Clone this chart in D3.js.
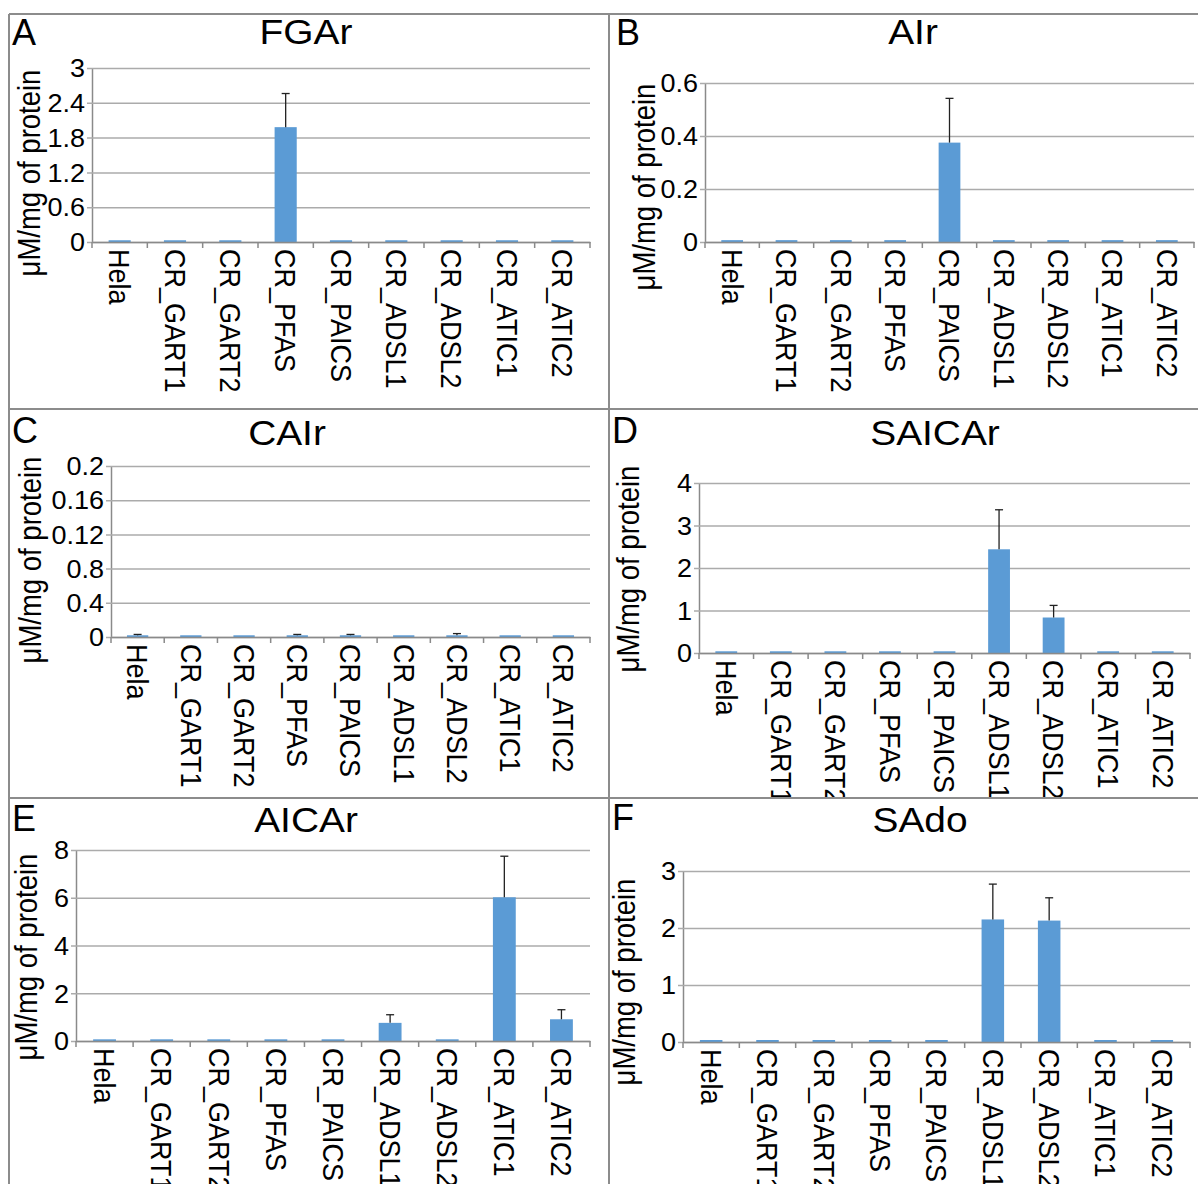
<!DOCTYPE html>
<html lang="en">
<head>
<meta charset="utf-8">
<title>Purine intermediates</title>
<script src="https://cdn.jsdelivr.net/npm/d3@7/dist/d3.min.js"></script>
<style>
  body { margin: 0; background: #fff; }
  svg text { font-family: "Liberation Sans", Arial, sans-serif; fill: #000; }
  .grid line { stroke: #ababab; stroke-width: 1.5px; }
  .axis path, .axis line { stroke: #8a8a8a; stroke-width: 1.5px; }
  .border { stroke: #8c8c8c; stroke-width: 2px; }
</style>
</head>
<body>
<script>
var categories = ["Hela", "CR_GART1", "CR_GART2", "CR_PFAS", "CR_PAICS",
                  "CR_ADSL1", "CR_ADSL2", "CR_ATIC1", "CR_ATIC2"];

// values (near-zero bars kept as thin slivers)
var fgar      = [0.03, 0.03, 0.03, 1.98, 0.03, 0.03, 0.03, 0.03, 0.03];
var fgarErr   = [0, 0, 0, 0.58, 0, 0, 0, 0, 0];
var air       = [0.007, 0.007, 0.007, 0.007, 0.375, 0.007, 0.007, 0.007, 0.007];
var airErr    = [0, 0, 0, 0, 0.167, 0, 0, 0, 0];
var cair      = [0.002, 0.002, 0.002, 0.002, 0.002, 0.002, 0.002, 0.002, 0.002];
var cairErr   = [0.001, 0, 0, 0.001, 0.001, 0, 0.002, 0, 0];
var saicar    = [0.04, 0.04, 0.04, 0.04, 0.04, 2.44, 0.835, 0.04, 0.04];
var saicarErr = [0, 0, 0, 0, 0, 0.93, 0.285, 0, 0];
var aicar     = [0.07, 0.07, 0.07, 0.07, 0.07, 0.76, 0.07, 6.02, 0.91];
var aicarErr  = [0, 0, 0, 0, 0, 0.34, 0, 1.72, 0.4];
var sado      = [0.035, 0.035, 0.035, 0.035, 0.035, 2.15, 2.13, 0.035, 0.035];
var sadoErr   = [0, 0, 0, 0, 0, 0.62, 0.40, 0, 0];

var fgarTicks = [0, 0.6, 1.2, 1.8, 2.4, 3];
var fgarTickLabels = ["0", "0.6", "1.2", "1.8", "2.4", "3"];
var airTicks = [0, 0.2, 0.4, 0.6];
var airTickLabels = ["0", "0.2", "0.4", "0.6"];
var cairTicks = [0, 0.04, 0.08, 0.12, 0.16, 0.2];
var cairTickLabels = ["0", "0.4", "0.8", "0.12", "0.16", "0.2"];
var saicarTicks = [0, 1, 2, 3, 4];
var saicarTickLabels = ["0", "1", "2", "3", "4"];
var aicarTicks = [0, 2, 4, 6, 8];
var aicarTickLabels = ["0", "2", "4", "6", "8"];
var sadoTicks = [0, 1, 2, 3];
var sadoTickLabels = ["0", "1", "2", "3"];

var yLabel = "\u03bcM/mg of protein";

var panels = [
  {letter: "A", title: "FGAr",   values: fgar,   errors: fgarErr,   max: 3,   ticks: fgarTicks,   tickLabels: fgarTickLabels},
  {letter: "B", title: "AIr",    values: air,    errors: airErr,    max: 0.6, ticks: airTicks,    tickLabels: airTickLabels},
  {letter: "C", title: "CAIr",   values: cair,   errors: cairErr,   max: 0.2, ticks: cairTicks,   tickLabels: cairTickLabels},
  {letter: "D", title: "SAICAr", values: saicar, errors: saicarErr, max: 4,   ticks: saicarTicks, tickLabels: saicarTickLabels},
  {letter: "E", title: "AICAr",  values: aicar,  errors: aicarErr,  max: 8,   ticks: aicarTicks,  tickLabels: aicarTickLabels},
  {letter: "F", title: "SAdo",   values: sado,   errors: sadoErr,   max: 3,   ticks: sadoTicks,   tickLabels: sadoTickLabels}
];

// box: clip region, plot: [x0, x1, yZero, yTop]
var layout = [
  {box: [9, 14, 600, 395],   letter: [12, 45],   title: [306, 44],  plot: [92, 590, 242, 68],    ylab: [31, 173]},
  {box: [609, 14, 589, 395], letter: [616, 45],  title: [913, 44],  plot: [705, 1194, 242, 83],  ylab: [646, 187]},
  {box: [9, 409, 600, 389],  letter: [12, 443],  title: [287, 445], plot: [111, 590, 637, 466],  ylab: [32, 560]},
  {box: [609, 409, 589, 389],letter: [612, 443], title: [935, 445], plot: [699, 1190, 653, 483], ylab: [630, 569]},
  {box: [9, 798, 600, 386],  letter: [12, 831],  title: [306, 832], plot: [76, 590, 1041, 850],  ylab: [28, 957]},
  {box: [609, 798, 589, 386],letter: [612, 830], title: [920, 832], plot: [683, 1190, 1042, 871],ylab: [626, 982]}
];

// the source figure is slightly stretched sideways
var sx = 1.08;

var svg = d3.select("body").append("svg")
    .attr("width", 1198)
    .attr("height", 1184);

svg.append("rect").attr("width", 1198).attr("height", 1184).attr("fill", "#fff");

panels.forEach(function(p, i) {
  var L = layout[i];
  var x0 = L.plot[0], x1 = L.plot[1], yZero = L.plot[2], yTop = L.plot[3];

  svg.append("clipPath").attr("id", "clip" + i)
    .append("rect")
    .attr("x", L.box[0]).attr("y", L.box[1])
    .attr("width", L.box[2]).attr("height", L.box[3]);

  var g = svg.append("g").attr("clip-path", "url(#clip" + i + ")");

  var x = d3.scaleBand().domain(categories).range([x0, x1]);
  var y = d3.scaleLinear().domain([0, p.max]).range([yZero, yTop]);

  // y axis + gridlines
  var gy = g.append("g")
    .attr("class", "axis grid")
    .attr("transform", "translate(" + x0 + ",0)")
    .call(d3.axisLeft(y)
      .tickValues(p.ticks)
      .tickFormat(function(d, j) { return p.tickLabels[j]; })
      .tickSizeInner(-(x1 - x0))
      .tickSizeOuter(0)
      .tickPadding(0));
  gy.selectAll(".tick line").attr("x1", -5).style("stroke", "#ababab");
  gy.selectAll(".tick text")
    .attr("x", null)
    .attr("transform", "translate(-7,0) scale(" + sx + ",1)")
    .attr("dy", "0.35em")
    .style("font-size", "25px");

  // bars
  g.append("g").selectAll("rect")
    .data(p.values)
    .enter().append("rect")
    .attr("x", function(d, j) { return x(categories[j]) + x.bandwidth() * 0.3; })
    .attr("width", x.bandwidth() * 0.4)
    .attr("y", function(d) { return y(d); })
    .attr("height", function(d) { return yZero - y(d); })
    .attr("fill", "#5b9bd5");

  // error bars
  var eb = g.append("g").selectAll("g")
    .data(p.values.map(function(d, j) { return {v: d, e: p.errors[j], c: categories[j]}; })
      .filter(function(d) { return d.e > 0; }))
    .enter().append("g");
  eb.append("line")
    .attr("x1", function(d) { return x(d.c) + x.bandwidth() / 2; })
    .attr("x2", function(d) { return x(d.c) + x.bandwidth() / 2; })
    .attr("y1", function(d) { return y(d.v); })
    .attr("y2", function(d) { return y(d.v + d.e); })
    .attr("stroke", "#222").attr("stroke-width", 1.3);
  eb.append("line")
    .attr("x1", function(d) { return x(d.c) + x.bandwidth() / 2 - 4; })
    .attr("x2", function(d) { return x(d.c) + x.bandwidth() / 2 + 4; })
    .attr("y1", function(d) { return y(d.v + d.e); })
    .attr("y2", function(d) { return y(d.v + d.e); })
    .attr("stroke", "#222").attr("stroke-width", 1.3);

  // x axis with rotated labels
  var gx = g.append("g")
    .attr("class", "axis")
    .attr("transform", "translate(0," + yZero + ")")
    .call(d3.axisBottom(x).tickSize(0).tickSizeOuter(0).tickPadding(0));
  gx.selectAll(".tick text")
    .attr("transform", "scale(" + sx + ",1) rotate(90)")
    .attr("x", 7)
    .attr("y", 0)
    .attr("dy", "0.35em")
    .attr("text-anchor", "start")
    .style("font-size", "27px");

  // tick marks between categories
  gx.selectAll(".sep")
    .data(categories.map(function(c) { return x(c); }).concat([x1]))
    .enter().append("line")
    .attr("class", "sep")
    .attr("x1", function(d) { return d; })
    .attr("x2", function(d) { return d; })
    .attr("y1", 0).attr("y2", 6);

  // y label
  g.append("text")
    .attr("transform", "translate(" + L.ylab[0] + "," + L.ylab[1] + ") scale(" + (sx + 0.04) + ",1) rotate(-90)")
    .attr("text-anchor", "middle")
    .attr("dy", "0.3em")
    .style("font-size", "27.5px")
    .text(yLabel);

  g.append("text")
    .attr("transform", "translate(" + L.title[0] + "," + L.title[1] + ") scale(" + sx + ",1)")
    .attr("text-anchor", "middle")
    .style("font-size", "36px")
    .text(p.title);

  g.append("text")
    .attr("transform", "translate(" + L.letter[0] + "," + L.letter[1] + ")")
    .style("font-size", "36px")
    .text(p.letter);
});

// panel frame
var borders = [
  [9, 14, 1198, 14], [9, 409, 1198, 409], [9, 798, 1198, 798],
  [9, 14, 9, 1184], [609, 14, 609, 1184]
];
svg.selectAll(".border")
  .data(borders)
  .enter().append("line")
  .attr("class", "border")
  .attr("x1", function(d) { return d[0]; })
  .attr("y1", function(d) { return d[1]; })
  .attr("x2", function(d) { return d[2]; })
  .attr("y2", function(d) { return d[3]; });
</script>
</body>
</html>
